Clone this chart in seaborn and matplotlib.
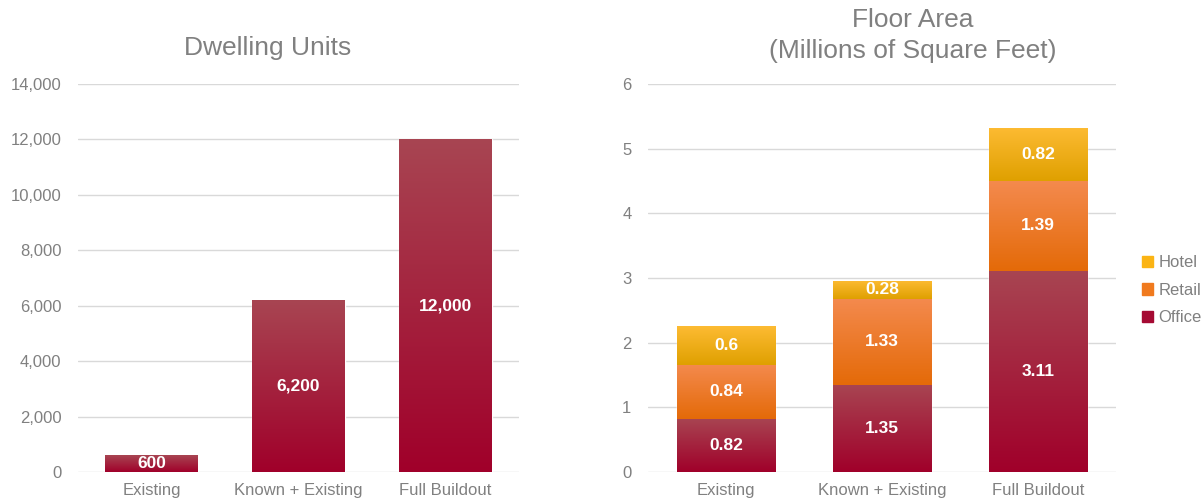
import numpy as np
import pandas as pd
import matplotlib
matplotlib.use("Agg")
import matplotlib.pyplot as plt
import seaborn as sns
from matplotlib.colors import LinearSegmentedColormap
from matplotlib.patches import Rectangle

categories = ["Existing", "Known + Existing", "Full Buildout"]
dwelling_units = [600, 6200, 12000]
dwelling_labels = ["600", "6,200", "12,000"]
office = [0.82, 1.35, 3.11]
retail = [0.84, 1.33, 1.39]
hotel = [0.60, 0.28, 0.82]
left_ticks = [0, 2000, 4000, 6000, 8000, 10000, 12000, 14000]
right_ticks = [0, 1, 2, 3, 4, 5, 6]

grad = {
    "Office": ("#A84552", "#A0002A"),
    "Retail": ("#F48A4E", "#E46A08"),
    "Hotel": ("#FDBB33", "#DFA000"),
}
legend_col = {"Office": "#A50A33", "Retail": "#F07A1E", "Hotel": "#FBB414"}

sns.set_theme(style="white")
plt.rcParams["font.family"] = ["Liberation Sans", "DejaVu Sans"]
gray = "#808080"
gridc = "#D9D9D9"

fig = plt.figure(figsize=(12.01, 5.04), dpi=100)
axL = fig.add_axes([0.065, 0.0635, 0.367, 0.7698])
axR = fig.add_axes([0.5396, 0.0635, 0.3897, 0.7698])


def gradient_fill(ax, x0, w, y0, y1, colors):
    cmap = LinearSegmentedColormap.from_list("g", [colors[1], colors[0]])
    img = np.linspace(0, 1, 256).reshape(-1, 1)
    im = ax.imshow(img, cmap=cmap, aspect="auto", origin="lower",
                   extent=[x0, x0 + w, y0, y1], zorder=3, interpolation="bilinear")
    rect = Rectangle((x0, y0), w, y1 - y0, transform=ax.transData, fill=False, lw=0)
    ax.add_patch(rect)
    im.set_clip_path(rect)


def style(ax, ticks, fmt):
    ax.set_ylim(ticks[0], ticks[-1])
    ax.set_yticks(ticks)
    ax.set_yticklabels([fmt(t) for t in ticks], color=gray, fontsize=12)
    ax.tick_params(axis="x", colors=gray, labelsize=12, length=0, pad=8)
    ax.tick_params(axis="y", length=0, pad=12)
    for s in ax.spines.values():
        s.set_visible(False)
    ax.yaxis.grid(True, color=gridc, lw=1)
    ax.set_axisbelow(True)
    ax.set_xlabel("")
    ax.set_ylabel("")


# Left chart
dfL = pd.DataFrame({"cat": categories, "units": dwelling_units})
sns.barplot(data=dfL, x="cat", y="units", ax=axL, color=grad["Office"][1],
            width=0.63, saturation=1, zorder=2)
axL.set_xlim(-0.5, 2.5)
style(axL, left_ticks, lambda t: f"{t:,}")
for p, v, lab in zip(axL.patches, dwelling_units, dwelling_labels):
    gradient_fill(axL, p.get_x(), p.get_width(), 0, v, grad["Office"])
    axL.text(p.get_x() + p.get_width() / 2, v / 2, lab, ha="center", va="center",
             color="white", fontsize=12.5, fontweight="bold", zorder=5)

# Right chart (stacked)
cum1 = np.array(office)
cum2 = cum1 + np.array(retail)
cum3 = cum2 + np.array(hotel)
for name, tops in [("Hotel", cum3), ("Retail", cum2), ("Office", cum1)]:
    d = pd.DataFrame({"cat": categories, "v": tops})
    sns.barplot(data=d, x="cat", y="v", ax=axR, color=legend_col[name],
                width=0.63, saturation=1, zorder=2)
if axR.get_legend() is not None:
    axR.get_legend().remove()
axR.set_xlim(-0.5, 2.5)
style(axR, right_ticks, lambda t: f"{t}")
n = len(categories)
patches = axR.patches
segs = [("Hotel", cum2, cum3, hotel), ("Retail", cum1, cum2, retail),
        ("Office", np.zeros(n), cum1, office)]
for k, (name, lo, hi, vals) in enumerate(segs):
    for i in range(n):
        p = patches[k * n + i]
        gradient_fill(axR, p.get_x(), p.get_width(), lo[i], hi[i], grad[name])
        axR.text(p.get_x() + p.get_width() / 2, (lo[i] + hi[i]) / 2, f"{vals[i]:g}",
                 ha="center", va="center", color="white", fontsize=12.5,
                 fontweight="bold", zorder=5)

handles = [Rectangle((0, 0), 1, 1, color=legend_col[nm]) for nm in ["Hotel", "Retail", "Office"]]
leg = fig.legend(handles, ["Hotel", "Retail", "Office"], loc="center left",
                 bbox_to_anchor=(0.938, 0.424), frameon=False, fontsize=12,
                 handlelength=0.7, handleheight=0.7, handletextpad=0.3,
                 labelspacing=0.75, labelcolor=gray)

fig.text(0.223, 0.905, "Dwelling Units", ha="center", va="center",
         fontsize=19, color=gray)
fig.text(0.760, 0.930, "Floor Area\n(Millions of Square Feet)", ha="center",
         va="center", fontsize=19, color=gray, linespacing=1.35)

fig.savefig("out.png", dpi=100)
